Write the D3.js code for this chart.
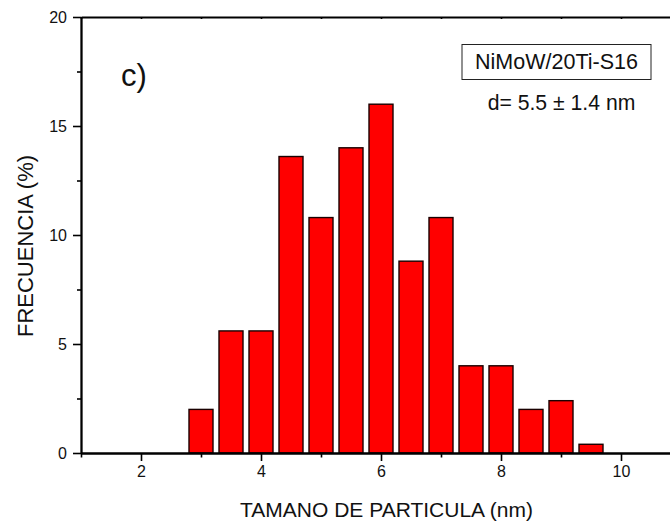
<!DOCTYPE html>
<html>
<head>
<meta charset="utf-8">
<script src="https://cdn.jsdelivr.net/npm/d3@7"></script>
<style>
  html, body { margin: 0; padding: 0; background: #fff; }
  svg { display: block; }
  text { font-family: "Liberation Sans", Arial, sans-serif; fill: #111; }
</style>
</head>
<body>
<svg id="chart" width="670" height="523"></svg>
<script>
// Particle size histogram (bin centre in nm, frequency in %)
const binCenters = [3, 3.5, 4, 4.5, 5, 5.5, 6, 6.5, 7, 7.5, 8, 8.5, 9, 9.5];
const frequency  = [2.0, 5.6, 5.6, 13.6, 10.8, 14.0, 16.0, 8.8, 10.8, 4.0, 4.0, 2.0, 2.4, 0.4];
const binWidth = 0.4;

const xMajorTicks = [2, 4, 6, 8, 10];
const xMinorTicks = [1, 3, 5, 7, 9, 11];
const xTopTicks   = [1, 2, 3, 4, 5, 6, 7, 8, 9, 10, 11];
const yMajorTicks = [0, 5, 10, 15, 20];
const yMinorTicks = [2.5, 7.5, 12.5, 17.5];

const xTitle = "TAMANO DE PARTICULA (nm)";
const yTitle = "FRECUENCIA (%)";
const panelLabel = "c)";
const sampleName = "NiMoW/20Ti-S16";
const meanLabel = "d= 5.5 \u00B1 1.4 nm";

const svg = d3.select("#chart");
const plotLeft = 81, plotTop = 17, plotBottom = 453, plotRight = 681;

const x = d3.scaleLinear().domain([1, 11]).range([plotLeft, plotRight]);
const y = d3.scaleLinear().domain([0, 20]).range([plotBottom, plotTop]);

// bars
svg.append("g").selectAll("rect")
  .data(binCenters)
  .join("rect")
  .attr("x", (d) => x(d - binWidth / 2))
  .attr("width", (d) => x(d + binWidth / 2) - x(d - binWidth / 2))
  .attr("y", (d, i) => y(frequency[i]))
  .attr("height", (d, i) => y(0) - y(frequency[i]))
  .attr("fill", "#ff0000")
  .attr("stroke", "#1a0000")
  .attr("stroke-width", 1.4);

function styleAxis(g) {
  g.select(".domain").attr("stroke", "#000").attr("stroke-width", 1.8);
  g.selectAll(".tick line").attr("stroke", "#000").attr("stroke-width", 1.6);
  g.selectAll(".tick text").style("font-size", "16px")
    .style("font-family", "'Liberation Sans', Arial, sans-serif").attr("fill", "#111");
}

// bottom axis: minor then major
svg.append("g").attr("transform", `translate(0,${plotBottom})`)
  .call(d3.axisBottom(x).tickValues(xMinorTicks).tickSize(4.5).tickFormat("").tickSizeOuter(0))
  .call(styleAxis);
svg.append("g").attr("transform", `translate(0,${plotBottom})`)
  .call(d3.axisBottom(x).tickValues(xMajorTicks).tickSize(8).tickPadding(5).tickSizeOuter(0))
  .call(styleAxis);

// top axis with short inward ticks
svg.append("g").attr("transform", `translate(0,${plotTop})`)
  .call(d3.axisBottom(x).tickValues(xTopTicks).tickSize(2).tickFormat("").tickSizeOuter(0))
  .call(styleAxis);

// left axis: minor then major
svg.append("g").attr("transform", `translate(${plotLeft},0)`)
  .call(d3.axisLeft(y).tickValues(yMinorTicks).tickSize(4).tickFormat("").tickSizeOuter(0))
  .call(styleAxis);
svg.append("g").attr("transform", `translate(${plotLeft},0)`)
  .call(d3.axisLeft(y).tickValues(yMajorTicks).tickSize(8).tickPadding(6).tickSizeOuter(0))
  .call(styleAxis);

// axis titles
svg.append("text")
  .attr("x", 386.5).attr("y", 517)
  .attr("text-anchor", "middle")
  .style("font-size", "21px")
  .text(xTitle);

svg.append("text")
  .attr("transform", "translate(32.5,246) rotate(-90)")
  .attr("text-anchor", "middle")
  .style("font-size", "22px")
  .text(yTitle);

// panel label
svg.append("text")
  .attr("x", 121).attr("y", 86)
  .style("font-size", "31px")
  .text(panelLabel);

// sample name box
const box = svg.append("g");
box.append("rect")
  .attr("x", 462).attr("y", 44.5)
  .attr("width", 189).attr("height", 35)
  .attr("fill", "#fff").attr("stroke", "#222").attr("stroke-width", 1);
box.append("text")
  .attr("x", 556.5).attr("y", 68.5)
  .attr("text-anchor", "middle")
  .style("font-size", "21.5px")
  .text(sampleName);

svg.append("text")
  .attr("x", 561.5).attr("y", 110)
  .attr("text-anchor", "middle")
  .style("font-size", "21.2px")
  .text(meanLabel);
</script>
</body>
</html>
